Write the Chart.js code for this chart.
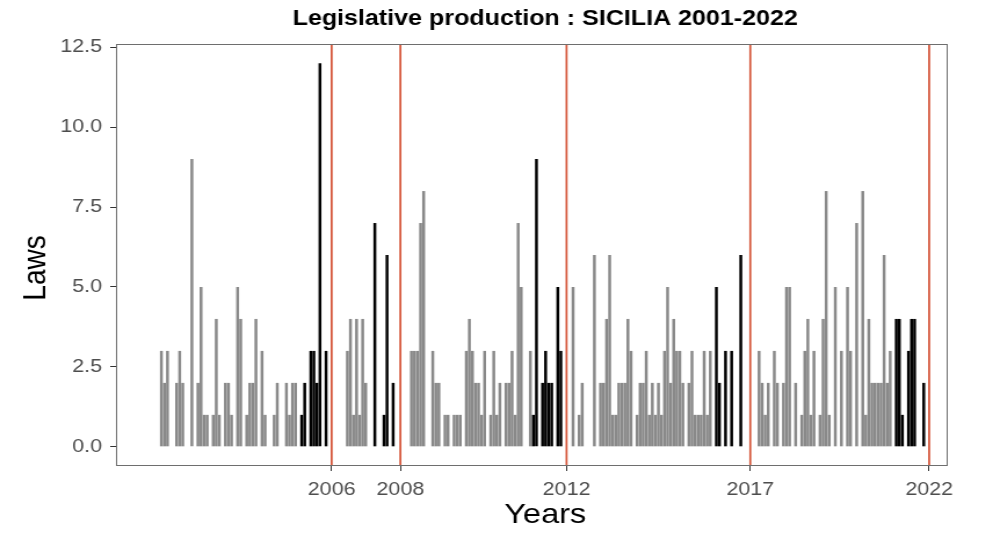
<!DOCTYPE html>
<html>
<head>
<meta charset="utf-8">
<script src="https://cdn.jsdelivr.net/npm/chart.js@4.4.1/dist/chart.umd.min.js"></script>
<style>
  html, body { margin: 0; padding: 0; background: #ffffff; }
  #wrap { width: 993px; height: 534px; overflow: hidden; }
  /* the figure is drawn on a narrower canvas and widened to the page */
  #chart { transform: scaleX(1.16005); transform-origin: 0 0; }
</style>
</head>
<body>
<div id="wrap"><canvas id="chart" width="856" height="534"></canvas></div>
<script>
// Monthly count of regional laws promulgated (months with no laws are left out)
const months = [
  '2001-10','2001-11','2001-12','2002-03','2002-04','2002-05','2002-08','2002-10','2002-11','2002-12',
  '2003-01','2003-03','2003-04','2003-05','2003-07','2003-08','2003-09','2003-11','2003-12',
  '2004-02','2004-03','2004-04','2004-05','2004-07','2004-08','2004-11','2004-12',
  '2005-03','2005-04','2005-05','2005-06','2005-08','2005-09','2005-11','2005-12',
  '2006-01','2006-02','2006-04','2006-11','2006-12',
  '2007-01','2007-02','2007-03','2007-04','2007-05','2007-08','2007-11','2007-12',
  '2008-02','2008-08','2008-09','2008-10','2008-11','2008-12',
  '2009-03','2009-04','2009-05','2009-07','2009-08','2009-10','2009-11','2009-12',
  '2010-02','2010-03','2010-04','2010-05','2010-06','2010-07','2010-08','2010-10','2010-11','2010-12',
  '2011-01','2011-03','2011-04','2011-05','2011-06','2011-07','2011-08','2011-11','2011-12',
  '2012-01','2012-03','2012-04','2012-05','2012-06','2012-08','2012-09',
  '2013-01','2013-03','2013-04','2013-08','2013-10','2013-11','2013-12',
  '2014-01','2014-02','2014-03','2014-04','2014-05','2014-06','2014-07','2014-08','2014-10','2014-11','2014-12',
  '2015-01','2015-02','2015-03','2015-04','2015-05','2015-06','2015-07','2015-08','2015-09','2015-10','2015-11','2015-12',
  '2016-01','2016-03','2016-04','2016-05','2016-06','2016-07','2016-08','2016-09','2016-10','2016-12',
  '2017-01','2017-03','2017-05','2017-08',
  '2018-02','2018-03','2018-04','2018-05','2018-07','2018-08','2018-10','2018-11','2018-12',
  '2019-02','2019-04','2019-05','2019-06','2019-07','2019-08','2019-10','2019-11','2019-12',
  '2020-01','2020-03','2020-05','2020-07','2020-08','2020-10','2020-12',
  '2021-01','2021-02','2021-03','2021-04','2021-05','2021-06','2021-07','2021-08','2021-09','2021-11','2021-12',
  '2022-01','2022-03','2022-04','2022-05','2022-08'
];
const laws = [
  3, 2, 3, 2, 3, 2, 9, 2, 5, 1,
  1, 1, 4, 1, 2, 2, 1, 5, 4,
  1, 2, 2, 4, 3, 1, 1, 2,
  2, 1, 2, 2, 1, 2, 3, 3,
  2, 12, 3, 3, 4,
  1, 4, 1, 4, 2, 7, 1, 6,
  2, 3, 3, 3, 7, 8,
  3, 2, 2, 1, 1, 1, 1, 1,
  3, 4, 3, 2, 2, 1, 3, 1, 3, 1,
  2, 2, 2, 3, 1, 7, 5, 3, 1,
  9, 2, 3, 2, 2, 5, 3,
  5, 1, 2, 6, 2, 2, 4,
  6, 1, 1, 2, 2, 2, 4, 3, 1, 2, 2,
  3, 1, 2, 1, 2, 1, 3, 5, 2, 4, 3, 3,
  2, 2, 3, 1, 1, 1, 3, 1, 3, 5,
  2, 3, 3, 6,
  3, 2, 1, 2, 3, 2, 2, 5, 5,
  2, 1, 3, 4, 1, 3, 1, 4, 8,
  1, 5, 3, 5, 3, 7, 8,
  1, 4, 2, 2, 2, 2, 6, 2, 3, 4, 4,
  1, 3, 4, 4, 2
];

// Regional elections (vertical markers and x-axis ticks)
const electionDates = ['2006-05-28', '2008-04-13', '2012-10-28', '2017-11-05', '2022-09-25'];
const electionLabels = ['2006', '2008', '2012', '2017', '2022'];
// First month of the closing phase of each legislature (bars in black)
const closingPhaseStart = ['2005-08', '2007-08', '2011-12', '2016-12', '2021-11'];

const yTicks = [0, 2.5, 5, 7.5, 10, 12.5];
const chartTitle = 'Legislative production : SICILIA 2001-2022';
const xTitle = 'Years';
const yTitle = 'Laws';

const GREY_BAR = '#898989';
const BLACK_BAR = '#000000';
const VLINE = '#d5573b';
const TEXT_GREY = '#4d4d4d';
const FONT = '"Liberation Sans", Arial, Helvetica, sans-serif';

// decimal-year helpers
function monthToYear(s) {
  const [y, m] = s.split('-').map(Number);
  return y + (m - 1) / 12;
}
function dateToYear(s) {
  const [y, m, d] = s.split('-').map(Number);
  const start = Date.UTC(y, 0, 1), end = Date.UTC(y + 1, 0, 1);
  return y + (Date.UTC(y, m - 1, d) - start) / (end - start);
}

const electionX = electionDates.map(dateToYear);
const phaseX = closingPhaseStart.map(monthToYear);

function barColour(x) {
  for (let i = 0; i < electionX.length; i++) {
    if (x < electionX[i]) return x >= phaseX[i] ? BLACK_BAR : GREY_BAR;
  }
  return GREY_BAR;
}

const points = months.map((m, i) => ({ x: monthToYear(m), y: laws[i] }));

// election markers, panel frame and titles
const decorations = {
  id: 'decorations',
  afterDatasetsDraw(chart) {
    const { ctx, chartArea: a, scales } = chart;
    ctx.save();
    ctx.strokeStyle = VLINE;
    ctx.lineWidth = 1.75;
    electionX.forEach(v => {
      const px = scales.x.getPixelForValue(v);
      ctx.beginPath();
      ctx.moveTo(px, a.top);
      ctx.lineTo(px, a.bottom);
      ctx.stroke();
    });
    ctx.strokeStyle = '#6e6e6e';
    ctx.lineWidth = 1;
    ctx.strokeRect(a.left + 0.5, a.top + 0.5, a.right - a.left - 1, a.bottom - a.top - 1);
    ctx.restore();
  },
  afterDraw(chart) {
    const { ctx } = chart;
    ctx.save();
    ctx.fillStyle = '#000000';
    ctx.textAlign = 'center';
    ctx.textBaseline = 'middle';
    ctx.font = 'bold 21.6px ' + FONT;
    ctx.fillText(chartTitle, 470, 19);
    ctx.font = '28px ' + FONT;
    ctx.fillText(xTitle, 470, 515);
    ctx.translate(31, 268);
    ctx.rotate(-Math.PI / 2);
    ctx.fillText(yTitle, 0, 0);
    ctx.restore();
  }
};

new Chart(document.getElementById('chart'), {
  type: 'bar',
  data: {
    datasets: [{
      data: points,
      backgroundColor: points.map(p => barColour(p.x)),
      borderWidth: 0,
      barPercentage: 0.95,
      categoryPercentage: 1.0
    }]
  },
  options: {
    responsive: false,
    animation: false,
    events: [],
    layout: { padding: { left: 0, right: 39, top: 44, bottom: 0 } },
    plugins: { legend: { display: false }, title: { display: false }, tooltip: { enabled: false } },
    scales: {
      x: {
        type: 'linear',
        min: 2000.51,
        max: 2023.24,
        bounds: 'data',
        offset: false,
        afterBuildTicks: s => { s.ticks = electionX.map(v => ({ value: v })); },
        afterFit: s => { s.height = 68; },
        ticks: {
          autoSkip: false,
          maxRotation: 0,
          padding: 8,
          color: TEXT_GREY,
          font: { family: FONT, size: 18.5 },
          callback: (v, i) => electionLabels[i]
        },
        grid: { display: true, offset: false, drawOnChartArea: false, drawTicks: true, tickLength: 5, tickColor: '#333333', tickWidth: 1 },
        border: { display: false }
      },
      y: {
        type: 'linear',
        min: -0.6,
        max: 12.6,
        bounds: 'data',
        afterBuildTicks: s => { s.ticks = yTicks.map(v => ({ value: v })); },
        afterFit: s => { s.width = 100; },
        ticks: {
          padding: 7,
          color: TEXT_GREY,
          font: { family: FONT, size: 18.5 },
          callback: v => Number(v).toFixed(1)
        },
        grid: { display: true, drawOnChartArea: false, drawTicks: true, tickLength: 5, tickColor: '#333333', tickWidth: 1 },
        border: { display: false }
      }
    }
  },
  plugins: [decorations]
});
</script>
</body>
</html>
